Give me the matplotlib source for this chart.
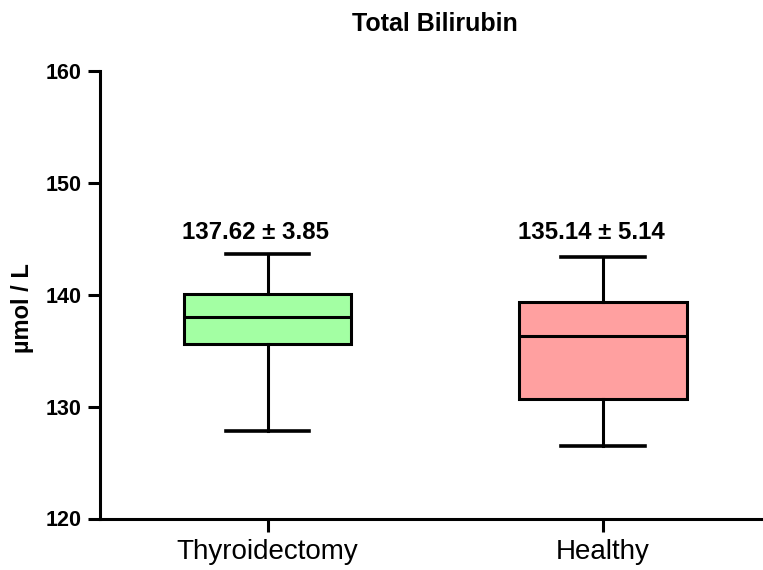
import matplotlib
matplotlib.use('Agg')
import matplotlib.pyplot as plt

plt.rcParams['font.family'] = ['Liberation Sans', 'DejaVu Sans']

groups = ['Thyroidectomy', 'Healthy']
whislo = [127.85, 126.45]
q1 = [135.6, 130.7]
med = [137.97, 136.3]
q3 = [140.06, 139.33]
whishi = [143.6, 143.4]
mean_sd = ['137.62 \u00b1 3.85', '135.14 \u00b1 5.14']
fills = ['#a3ffa3', '#ffa0a0']

stats = []
for i in range(len(groups)):
    stats.append({'whislo': whislo[i], 'q1': q1[i], 'med': med[i],
                  'q3': q3[i], 'whishi': whishi[i], 'fliers': []})

fig = plt.figure(figsize=(7.63, 5.70), dpi=100)
ax = fig.add_axes([100/763, 1-518.5/570, 662/763, (518.5-71)/570])

pos = list(range(len(groups)))
bp = ax.bxp(stats, positions=pos, widths=0.5, capwidths=0.25,
            patch_artist=True, showfliers=False,
            boxprops=dict(linewidth=2.2, edgecolor='black'),
            medianprops=dict(color='black', linewidth=2.2),
            whiskerprops=dict(color='black', linewidth=2.2),
            capprops=dict(color='black', linewidth=2.6))
for patch, c in zip(bp['boxes'], fills):
    patch.set_facecolor(c)

# labels sit a little left of the box centre, as in the original
for i in pos:
    ax.text(i - 0.035, 145, mean_sd[i], ha='center', va='baseline',
            fontsize=17.3, fontweight='bold')

ax.set_xlim(-0.5, 1.475)
ax.set_ylim(120, 160)
ax.set_yticks([120, 130, 140, 150, 160])
ax.set_xticks(pos)
ax.set_xticklabels(groups, fontsize=20)
for lab in ax.get_yticklabels():
    lab.set_fontsize(15.5)
    lab.set_fontweight('bold')

ax.spines['top'].set_visible(False)
ax.spines['right'].set_visible(False)
ax.spines['left'].set_linewidth(2.2)
ax.spines['bottom'].set_linewidth(2.2)
ax.tick_params(axis='both', width=2.2, length=9, direction='out')
ax.tick_params(axis='y', pad=4)
ax.tick_params(axis='x', pad=6)

ax.set_ylabel('\u00b5mol / L', fontsize=17, fontweight='bold', labelpad=10)
ax.yaxis.set_label_coords(-0.1, 0.47)
fig.suptitle('Total Bilirubin', x=435/763, y=1-12/570, va='top',
             fontsize=18, fontweight='bold')

fig.savefig('out.png', dpi=100)
